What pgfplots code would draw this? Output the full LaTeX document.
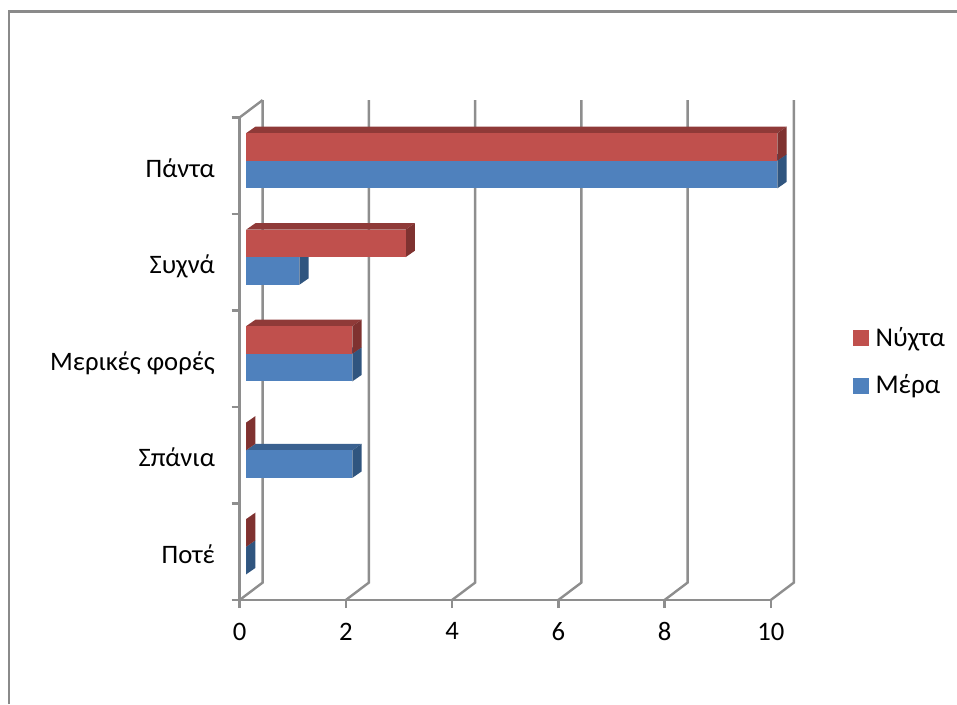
\documentclass[border=0pt]{standalone}
\usepackage{fontspec}
\setmainfont{Carlito}
\usepackage{pgfplots}
\pgfplotsset{compat=1.18}

\definecolor{axisgray}{HTML}{8E8E8E}
\definecolor{frameline}{HTML}{8A8A8A}
\definecolor{redfront}{HTML}{C0504D}
\definecolor{redtop}{HTML}{8F3A38}
\definecolor{redside}{HTML}{7F3230}
\definecolor{bluefront}{HTML}{4F81BD}
\definecolor{bluetop}{HTML}{3A6190}
\definecolor{blueside}{HTML}{30557F}

% Depth of the bars, their gap from the floor plane, and depth of the back wall (data units)
\def\barstart{0.124}
\def\bardx{0.175}
\def\bardy{0.067}
\def\walldx{0.433}
\def\walldy{0.180}

% One solid bar: #1 category position, #2 value, #3 lower and #4 upper fraction, #5 colour prefix
\newcommand{\solidbar}[5]{%
  \pgfmathsetmacro\xl{\barstart}%
  \pgfmathsetmacro\xr{#2+\barstart}%
  \pgfmathsetmacro\yl{#1+#3}%
  \pgfmathsetmacro\yh{#1+#4}%
  \pgfmathsetmacro\xlb{\xl+\bardx}%
  \pgfmathsetmacro\xrb{\xr+\bardx}%
  \pgfmathsetmacro\ylb{\yl+\bardy}%
  \pgfmathsetmacro\yhb{\yh+\bardy}%
  \addplot[forget plot,draw=none,fill=#5top] coordinates {(\xl,\yh) (\xr,\yh) (\xrb,\yhb) (\xlb,\yhb)} --cycle;
  \addplot[forget plot,draw=none,fill=#5side] coordinates {(\xr,\yl) (\xrb,\ylb) (\xrb,\yhb) (\xr,\yh)} --cycle;
  \addplot[forget plot,draw=none,fill=#5front] coordinates {(\xl,\yl) (\xr,\yl) (\xr,\yh) (\xl,\yh)} --cycle;
}
\newcommand{\daybar}[2]{\solidbar{#1}{#2}{0.266}{0.552}{blue}}
\newcommand{\nightbar}[2]{\solidbar{#1}{#2}{0.552}{0.838}{red}}

% Back-wall gridline at value #1, with the floor edge leading to it
\newcommand{\wallline}[1]{%
  \pgfmathsetmacro\xw{#1+\walldx}%
  \addplot[forget plot,axisgray,line width=1.8pt] coordinates {(#1,0) (\xw,\walldy) (\xw,5.18)};
}

\begin{document}
\begin{tikzpicture}[x=0.75pt,y=0.75pt]
  \path[use as bounding box] (0,0) rectangle (957,704);
  \draw[frameline,line width=1.8pt] (9,0) -- (9,692.5) -- (957,692.5);
  \begin{axis}[
    at={(179.7pt,78pt)}, anchor=south west,
    scale only axis, width=398.4pt, height=361.9pt,
    xmin=0, xmax=10, ymin=0, ymax=5,
    clip=false,
    axis x line*=bottom, axis y line*=left,
    axis line style={axisgray,line width=1.8pt},
    tick align=outside,
    tick style={axisgray,line width=1.8pt},
    major tick length=0pt, minor tick length=6pt,
    xtick={0,2,4,6,8,10},
    minor xtick={0,2,4,6,8,10},
    ytick={0.48,1.48,2.48,3.48,4.48},
    minor ytick={0,1,2,3,4,5},
    yticklabels={Ποτέ,Σπάνια,Μερικές φορές,Συχνά,Πάντα},
    tick label style={font=\fontsize{20pt}{24pt}\selectfont,text=black},
    xticklabel style={yshift=-13.5pt},
    yticklabel style={xshift=-15pt,yshift=-2.25pt,text height=14pt,text depth=4pt},
    /pgf/number format/assume math mode=true,
    legend style={at={(1,0.5)},anchor=west,xshift=61.5pt,yshift=-2.25pt,draw=none,fill=none,
      font=\fontsize{20.3pt}{24pt}\selectfont,row sep=15.75pt,
      legend cell align=left,inner sep=0pt},
  ]
    \addlegendimage{legend image code/.code={\fill[redfront] (0pt,-5.5pt) rectangle (11pt,5.5pt);\path (14.5pt,0pt);}}
    \addlegendentry{Νύχτα}
    \addlegendimage{legend image code/.code={\fill[bluefront] (0pt,-5.5pt) rectangle (11pt,5.5pt);\path (14.5pt,0pt);}}
    \addlegendentry{Μέρα}

    % back wall and left edge
    \wallline{0}\wallline{2}\wallline{4}\wallline{6}\wallline{8}\wallline{10}
    \addplot[forget plot,axisgray,line width=1.8pt] coordinates {(0,5) (0.433,5.18)};

    % Ποτέ
    \daybar{0}{0}
    \nightbar{0}{0}
    % Σπάνια
    \daybar{1}{2}
    \nightbar{1}{0}
    % Μερικές φορές
    \daybar{2}{2}
    \nightbar{2}{2}
    % Συχνά
    \daybar{3}{1}
    \nightbar{3}{3}
    % Πάντα
    \daybar{4}{10}
    \nightbar{4}{10}
  \end{axis}
\end{tikzpicture}
\end{document}
